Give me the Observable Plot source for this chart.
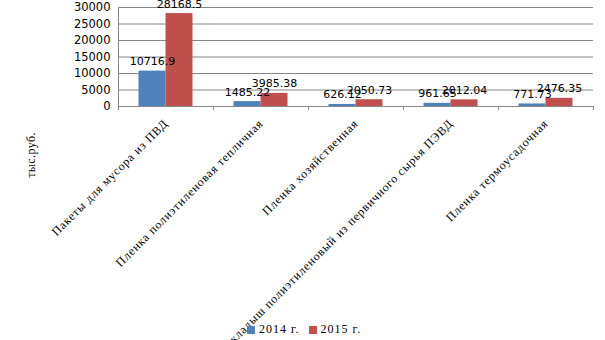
<!DOCTYPE html>
<html>
<head>
<meta charset="utf-8">
<script src="https://cdn.jsdelivr.net/npm/d3@7"></script>
<script src="https://cdn.jsdelivr.net/npm/@observablehq/plot@0.6"></script>
<style>
  html, body { margin: 0; padding: 0; background: #fff; }
  #wrap { position: relative; width: 605px; height: 340px; overflow: hidden; }
  #ylabel { position: absolute; left: 31px; top: 155px; transform: translate(-50%, -50%) rotate(-90deg);
    font-family: "Liberation Serif", serif; font-size: 12px; letter-spacing: 0.4px; color: #000; white-space: nowrap; }
  #legend { position: absolute; left: 247px; top: 322px; font-family: "Liberation Serif", serif; font-size: 12px;
    letter-spacing: 1px; color: #000; display: flex; align-items: center; white-space: nowrap; }
  #legend .sw { width: 8px; height: 8px; display: inline-block; margin-right: 4px; }
  #legend .it { display: flex; align-items: center; margin-right: 9px; }
</style>
</head>
<body>
<div id="wrap">
  <div id="chart"></div>
  <div id="ylabel"></div>
  <div id="legend"></div>
</div>
<script>
const categories = [
  "Пакеты для мусора из ПВД",
  "Пленка полиэтиленовая тепличная",
  "Пленка хозяйственная",
  "Вкладыш полиэтиленовый из первичного сырья ПЭВД",
  "Пленка термоусадочная"
];
const years = ["2014 г.", "2015 г."];
const values2014 = [10716.9, 1485.22, 626.12, 961.65, 771.73];
const values2015 = [28168.5, 3985.38, 2050.73, 2012.04, 2476.35];
const labels2014 = ["10716.9", "1485.22", "626.12", "961.65", "771.73"];
const labels2015 = ["28168.5", "3985.38", "2050.73", "2012.04", "2476.35"];
const yTicks = [0, 5000, 10000, 15000, 20000, 25000, 30000];
const yUnit = "тыс.руб.";
const colors = ["#4F81BD", "#C0504D"];

const W = 605, H = 340, mL = 118, mR = 12, mT = 7, mB = 234;
const band = (W - mL - mR) / categories.length;
const half = band / 2;
const barW = 27;

const d14 = categories.map((c, i) => ({cat: c, v: values2014[i], lab: labels2014[i]}));
const d15 = categories.map((c, i) => ({cat: c, v: values2015[i], lab: labels2015[i]}));

const sans = "DejaVu Sans, sans-serif";
const serif = "Liberation Serif, serif";

const chart = Plot.plot({
  width: W, height: H,
  marginLeft: mL, marginRight: mR, marginTop: mT, marginBottom: mB,
  style: {background: "#fff", overflow: "visible"},
  x: {type: "band", domain: categories, padding: 0, axis: null, label: null},
  y: {domain: [0, 30000], axis: null, label: null},
  marks: [
    Plot.gridY(yTicks, {stroke: "#868686", strokeOpacity: 1}),
    Plot.axisY(yTicks, {tickSize: 0, tickPadding: 8, fontSize: 11.5, fontFamily: sans, fill: "#000", label: null, tickFormat: d => String(d)}),
    Plot.barY(d14, {x: "cat", y: "v", fill: colors[0], insetLeft: half - barW, insetRight: half}),
    Plot.barY(d15, {x: "cat", y: "v", fill: colors[1], insetLeft: half, insetRight: half - barW}),
    Plot.ruleY([0], {stroke: "#868686"}),
    Plot.ruleX([categories[0]], {y1: 0, y2: 30000, dx: -half, stroke: "#868686"}),
    Plot.axisX(categories, {tickSize: 4, tickFormat: () => "", label: null, dx: -half, stroke: "#868686"}),
    Plot.axisX([categories[categories.length - 1]], {tickSize: 4, tickFormat: () => "", label: null, dx: half, stroke: "#868686"}),
    Plot.text(d14, {x: "cat", y: "v", text: "lab", dx: -barW / 2, dy: -6, lineAnchor: "bottom", fontSize: 11, fontFamily: sans, fill: "#000"}),
    Plot.text(d15, {x: "cat", y: "v", text: "lab", dx: barW / 2, dy: -6, lineAnchor: "bottom", fontSize: 11, fontFamily: sans, fill: "#000"}),
    Plot.text(categories, {x: d => d, frameAnchor: "bottom", dy: 15, rotate: -45, textAnchor: "end", lineAnchor: "middle",
      fontSize: 12, fontFamily: serif, fill: "#000"})
  ]
});
d3.select(chart).selectAll("text")
  .filter(function() { return categories.includes(this.textContent); })
  .style("letter-spacing", "0.8px");
document.getElementById("chart").appendChild(chart);

document.getElementById("ylabel").textContent = yUnit;
const lg = document.getElementById("legend");
years.forEach((y, i) => {
  const it = document.createElement("span");
  it.className = "it";
  const sw = document.createElement("span");
  sw.className = "sw";
  sw.style.background = colors[i];
  it.appendChild(sw);
  it.appendChild(document.createTextNode(y));
  lg.appendChild(it);
});
</script>
</body>
</html>
